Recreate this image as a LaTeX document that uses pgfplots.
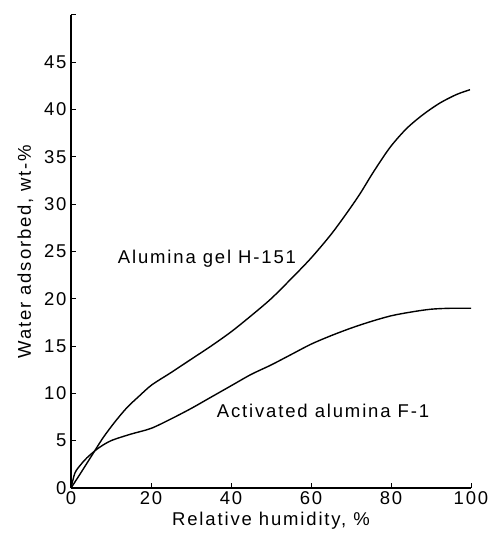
\documentclass[border=0pt]{standalone}
\usepackage{fontspec}
\setmainfont{Liberation Sans}[LetterSpace=10]
\usepackage{pgfplots}
\pgfplotsset{compat=1.18}
\begin{document}
\begin{tikzpicture}
\useasboundingbox (-71pt,-47pt) rectangle (416pt,488pt);
\begin{axis}[
  at={(0pt,0pt)}, anchor=south west,
  scale only axis, width=400pt, height=473pt,
  xmin=0, xmax=100, ymin=0, ymax=50,
  axis x line=bottom, axis y line=left,
  axis line style={-, line width=1.1pt},
  tick style={line width=1pt, black},
  tick align=inside, major tick length=5pt,
  xtick={0,20,40,60,80,100},
  xticklabels={0,20,40,60,80,100},
  ytick={0,5,10,15,20,25,30,35,40,45,50},
  yticklabels={0,5,10,15,20,25,30,35,40,45,{}},
  /pgf/number format/assume math mode=true,
  tick label style={font=\fontsize{18.5}{21}\selectfont},
  yticklabel style={xshift=-1pt},
  label style={font=\fontsize{18.5}{21}\selectfont},
  xlabel={Relative humidity, \%},
  ylabel={Water adsorbed, wt-\%},
  xlabel style={yshift=-1pt},
  ylabel style={yshift=4pt},
  clip=false,
]
\addplot[black, line width=1.4pt, smooth] coordinates {
 (0,0) (2,1.3) (5,3.3) (8,5.3) (11,7.0) (14,8.5) (17,9.7) (20.2,10.9) (25,12.2)
 (30,13.6) (35,15.0) (40,16.5) (45,18.2) (50,20.0) (55,22.1) (60,24.3)
 (65,26.8) (69,29.1) (72.25,31.1) (75.6,33.4) (79.75,36.0) (83.9,38.0)
 (88.1,39.5) (92.25,40.7) (96.4,41.6) (99.75,42.1)
};
\addplot[black, line width=1.4pt, smooth] coordinates {
 (0,0) (1,1.6) (2.5,2.5) (4,3.2) (6.8,4.2) (10,5.0) (15,5.7) (20,6.3)
 (25,7.3) (30,8.4) (35,9.6) (40,10.8) (45,12.0) (50,13.0) (55,14.1)
 (60,15.2) (65,16.1) (70,16.9) (75,17.6) (80,18.2) (85,18.6) (90,18.9)
 (95,19.0) (100,19.0)
};
\node[font=\fontsize{18.5}{21}\selectfont] at (axis cs:34,24.2) {Alumina gel H-151};
\node[font=\fontsize{18.5}{21}\selectfont] at (axis cs:63,8.1) {Activated alumina F-1};
\end{axis}
\end{tikzpicture}
\end{document}
